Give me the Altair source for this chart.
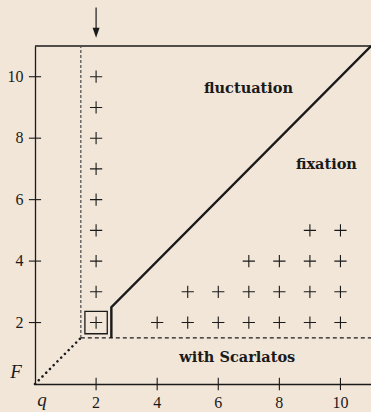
import altair as alt
import pandas as pd

# Grid points (q, F) marked with a plus
q_vals = [2, 2, 2, 2, 2, 2, 2, 2, 2,
          4, 5, 6, 7, 8, 9, 10,
          5, 6, 7, 8, 9, 10,
          7, 8, 9, 10,
          9, 10]
F_vals = [2, 3, 4, 5, 6, 7, 8, 9, 10,
          2, 2, 2, 2, 2, 2, 2,
          3, 3, 3, 3, 3, 3,
          4, 4, 4, 4,
          5, 5]

tick_vals = [2, 4, 6, 8, 10]
tick_text = ["2", "4", "6", "8", "10"]

# Region boundaries
fix_q = [2.5, 2.5, 11]
fix_F = [1.5, 2.5, 11]
scar_q = [1.5, 11]
scar_F = [1.5, 1.5]
left_q = [1.5, 1.5]
left_F = [1.5, 11]
diag_q = [0, 1.5]
diag_F = [0, 1.5]
top_q = [0, 11]
top_F = [11, 11]

# Region labels
region_text = ["fluctuation", "fixation", "with Scarlatos"]
region_q = [6.99, 9.54, 6.62]
region_F = [9.48, 7.0, 0.72]

FONT = "Liberation Serif"
BOLD_FONT = "DejaVu Serif"
INK = "#1a1a1a"
BG = "#f2e6d9"

xs = alt.Scale(domain=[0, 11], nice=False, zero=False)
ys = alt.Scale(domain=[0, 11], nice=False, zero=False)

# Only the axis lines come from Vega's axes; ticks and labels are drawn below
x_axis = alt.Axis(values=tick_vals, ticks=False, labels=False, grid=False, title=None)
y_axis = alt.Axis(values=tick_vals, ticks=False, labels=False, grid=False, title=None)


def X(field):
    return alt.X(field, scale=xs, axis=x_axis)


def Y(field):
    return alt.Y(field, scale=ys, axis=y_axis)


def path(qs, fs):
    return pd.DataFrame({"q": qs, "F": fs, "i": list(range(len(qs)))})


def line(qs, fs, **kw):
    return alt.Chart(path(qs, fs)).mark_line(clip=False, **kw).encode(
        x=X("q:Q"), y=Y("F:Q"), order="i:O"
    )


pts = pd.DataFrame({"q": q_vals, "F": F_vals})
plus = alt.Chart(pts).mark_point(
    shape="M-1,0L1,0M0,-1L0,1", size=150, strokeWidth=1.1, color=INK, opacity=1
).encode(x=X("q:Q"), y=Y("F:Q"))

# Axis tick marks crossing the axis lines, with their labels
ticks_df = pd.DataFrame({"v": tick_vals, "t": tick_text})
xticks = alt.Chart(ticks_df).mark_rule(color=INK, strokeWidth=1.1, clip=False).encode(
    x=X("v:Q"), y=alt.datum(-0.2), y2=alt.datum(0.2)
)
yticks = alt.Chart(ticks_df).mark_rule(color=INK, strokeWidth=1.1, clip=False).encode(
    y=Y("v:Q"), x=alt.datum(-0.2), x2=alt.datum(0.2)
)
xlabels = alt.Chart(ticks_df).mark_text(
    font=FONT, fontSize=16, color=INK, baseline="alphabetic", align="center", clip=False
).encode(x=X("v:Q"), y=alt.datum(-0.78), text="t:N")
ylabels = alt.Chart(ticks_df).mark_text(
    font=FONT, fontSize=16, color=INK, baseline="middle", align="right", clip=False
).encode(y=Y("v:Q"), x=alt.datum(-0.38), text="t:N")

# Highlighted case (q, F) = (2, 2)
box = alt.Chart(pd.DataFrame({"q": [2], "F": [2]})).mark_point(
    shape="square", filled=False, size=500, color=INK, strokeWidth=1.3, opacity=1
).encode(x=X("q:Q"), y=Y("F:Q"))

# Arrow pointing at q = 2
arrow_shaft = alt.Chart(pd.DataFrame({"q": [2]})).mark_rule(
    color=INK, strokeWidth=1.2, clip=False
).encode(x=X("q:Q"), y=alt.datum(12.25), y2=alt.datum(11.5))
arrow_head = alt.Chart(pd.DataFrame({"q": [2], "F": [11.43]})).mark_point(
    shape="M-0.7,-1L0.7,-1L0,1Z", size=100, filled=True, color=INK, opacity=1,
    clip=False
).encode(x=X("q:Q"), y=Y("F:Q"))

top = line(top_q, top_F, color=INK, strokeWidth=1.4)
fix = line(fix_q, fix_F, color=INK, strokeWidth=2.4)
scar = line(scar_q, scar_F, color=INK, strokeWidth=1.1, strokeDash=[4, 3])
left = line(left_q, left_F, color="#555555", strokeWidth=1.3, strokeDash=[3, 2])
diag = line(diag_q, diag_F, color=INK, strokeWidth=2.6, strokeDash=[0.1, 5.2],
            strokeCap="round")

regions = alt.Chart(pd.DataFrame({"t": region_text, "q": region_q, "F": region_F})).mark_text(
    font=BOLD_FONT, fontSize=14.5, fontWeight="bold", color=INK, baseline="alphabetic"
).encode(x=X("q:Q"), y=Y("F:Q"), text="t:N")

# Axis names in math italic
names = alt.Chart(pd.DataFrame({"t": ["F", "q"], "q": [-0.62, 0.23], "F": [0.2, -0.72]})).mark_text(
    font=FONT, fontSize=19, fontStyle="italic", color=INK, baseline="alphabetic",
    clip=False
).encode(x=X("q:Q"), y=Y("F:Q"), text="t:N")

chart = alt.layer(
    top, left, scar, diag, fix, box, plus, xticks, yticks, xlabels, ylabels,
    arrow_shaft, arrow_head, regions, names
).properties(
    width=336, height=338,
    autosize=alt.AutoSizeParams(type="none"),
    padding={"left": 35, "top": 46, "right": 0, "bottom": 28},
    background=BG,
).configure_view(
    stroke=None
).configure_axis(
    domainColor=INK, domainWidth=1.3,
)

chart.save("out.html", embed_options={"renderer": "svg", "actions": False})
